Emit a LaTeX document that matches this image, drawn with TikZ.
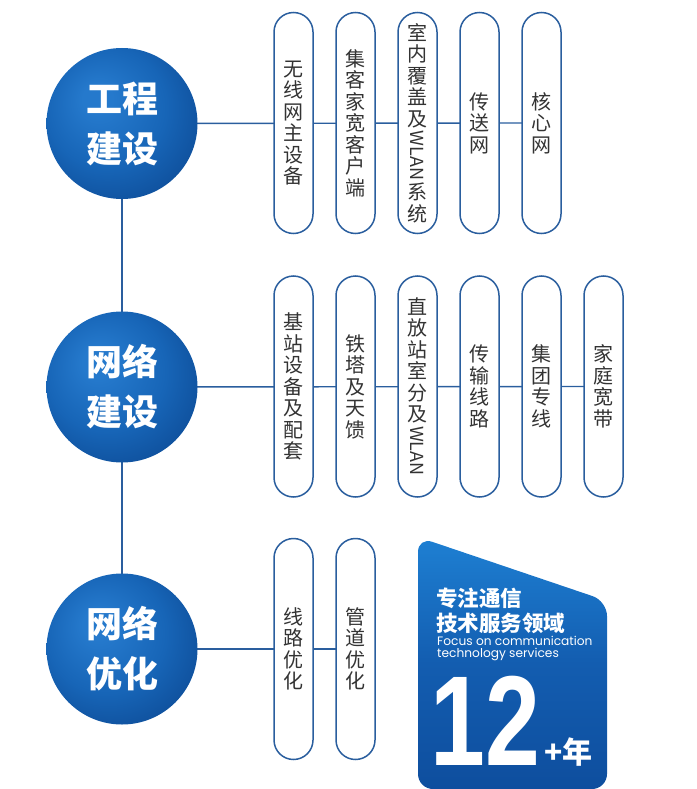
\documentclass[tikz,border=0pt]{standalone}
\usepackage{fontspec}
\setmainfont{Liberation Sans}
\newfontfamily\cjk{Noto Sans CJK SC}
\newfontfamily\latn{Poppins}
\usetikzlibrary{backgrounds}
\definecolor{linec}{HTML}{2A5E9E}
\definecolor{txt}{HTML}{333333}
\definecolor{cA}{HTML}{2579CC}
\definecolor{cB}{HTML}{1765B7}
\definecolor{cC}{HTML}{0D4B96}
\definecolor{bTop}{HTML}{1E80D3}
\definecolor{bMid}{HTML}{135DB0}
\definecolor{bBot}{HTML}{0E4E9E}
\pgfdeclareradialshading{orb}{\pgfpoint{-9bp}{9bp}}{color(0bp)=(cA); color(5bp)=(cA); color(20bp)=(cB); color(34bp)=(cC); color(50bp)=(cC)}
\tikzset{
  orbnode/.style={circle, minimum size=151pt, inner sep=0pt, shading=orb, text=white,
    font=\cjk\bfseries\fontsize{36}{50}\selectfont, align=center},
  pill/.style={draw=linec, line width=1.5pt, fill=white, rounded corners=19.5pt,
    minimum width=39pt, minimum height=221pt, inner sep=0pt, text=txt,
    font=\cjk\fontsize{20}{21.5}\selectfont, align=center},
  conn/.style={draw=linec, line width=1.4pt},
  btxt/.style={anchor=base west, inner sep=0pt, text=white}
}
\newcommand{\wlan}{\rotatebox[origin=c]{-90}{\fontsize{18}{18}\selectfont WLAN}}
\begin{document}
\begin{tikzpicture}[x=1pt,y=-1pt]
\useasboundingbox (0,0) rectangle (696,789);

% circles
\node[orbnode] (c1) at (122,123.5) {工程\\建设};
\node[orbnode] (c2) at (122,387) {网络\\建设};
\node[orbnode] (c3) at (122,649) {网络\\优化};

% row 1
\node[pill] (p11) at (293.5,123) {无\\线\\网\\主\\设\\备};
\node[pill] (p12) at (355.5,123) {集\\客\\家\\宽\\客\\户\\端};
\node[pill] (p13) at (417.5,123) {室\\内\\覆\\盖\\及\\[2pt]\wlan\\[2pt]系\\统};
\node[pill] (p14) at (479.5,123) {传\\送\\网};
\node[pill] (p15) at (541.5,123) {核\\心\\网};

% row 2
\node[pill] (p21) at (293.5,386.5) {基\\站\\设\\备\\及\\配\\套};
\node[pill] (p22) at (355.5,386.5) {铁\\塔\\及\\天\\馈};
\node[pill] (p23) at (417.5,386.5) {直\\放\\站\\室\\分\\及\\[2pt]\wlan};
\node[pill] (p24) at (479.5,386.5) {传\\输\\线\\路};
\node[pill] (p25) at (541.5,386.5) {集\\团\\专\\线};
\node[pill] (p26) at (603.5,386.5) {家\\庭\\宽\\带};

% row 3
\node[pill] (p31) at (293.5,649) {线\\路\\优\\化};
\node[pill] (p32) at (355.5,649) {管\\道\\优\\化};

\begin{pgfonlayer}{background}
  \draw[conn] (c1.center) -- (c3.center);
  \draw[conn] (c1.center) -- (p15.center);
  \draw[conn] (c2.center) -- (p26.center);
  \draw[conn] (c3.center) -- (p32.center);
\end{pgfonlayer}

% badge
\shade[top color=bTop, bottom color=bBot, middle color=bMid, rounded corners=15pt]
  (418,789) -- (418,620) -- (418,537) -- (607,601) -- (607,680) -- (607,789) -- cycle;
\node[btxt, font=\cjk\bfseries\fontsize{21.5}{21.5}\selectfont] (b1) at (436,606) {专注通信};
\node[btxt, font=\cjk\bfseries\fontsize{21.5}{21.5}\selectfont] (b2) at (436,631) {技术服务领域};
\node[btxt, font=\latn\fontsize{12.2}{12}\selectfont] (b3) at (437,645) {Focus on communication};
\node[btxt, font=\latn\fontsize{12.2}{12}\selectfont] (b4) at (437,657) {technology services};
\node[btxt, font=\bfseries\fontsize{128}{128}\selectfont] (b5) at (430,765) {\scalebox{0.77}[1]{12}};
\node[btxt, font=\cjk\bfseries\fontsize{30}{30}\selectfont] (b6) at (544,763) {+年};
\end{tikzpicture}
\end{document}
